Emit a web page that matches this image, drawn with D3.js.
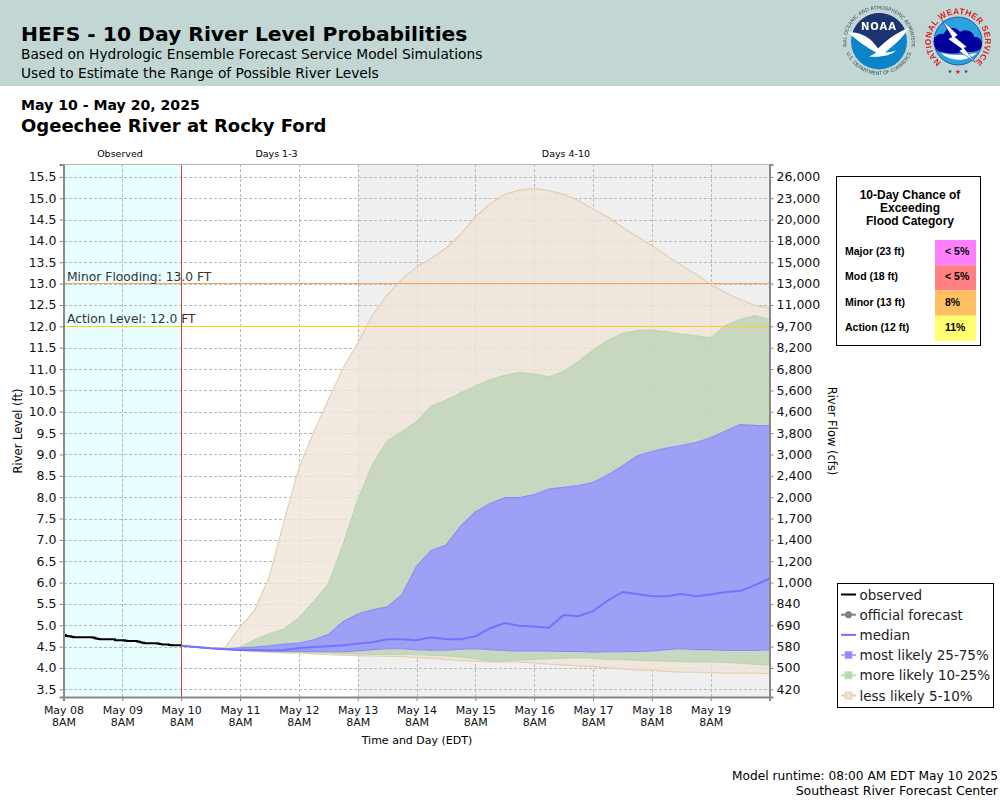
<!DOCTYPE html>
<html>
<head>
<meta charset="utf-8">
<script src="https://cdn.jsdelivr.net/npm/d3@7"></script>
<style>
  html, body { margin: 0; padding: 0; background: #fff; }
  svg { display: block; font-family: "DejaVu Sans", sans-serif; }
</style>
</head>
<body>
<div id="chart"></div>
<script>
// ----- DATA -----
// Hours are counted from May 08 8AM
const dayLabels = ["May 08", "May 09", "May 10", "May 11", "May 12", "May 13", "May 14", "May 15", "May 16", "May 17", "May 18", "May 19"];
const stageTicks = [15.5, 15.0, 14.5, 14.0, 13.5, 13.0, 12.5, 12.0, 11.5, 11.0, 10.5, 10.0, 9.5, 9.0, 8.5, 8.0, 7.5, 7.0, 6.5, 6.0, 5.5, 5.0, 4.5, 4.0, 3.5];
const flowLabels = ["26,000", "23,000", "20,000", "18,000", "15,000", "13,000", "11,000", "9,700", "8,200", "6,800", "5,600", "4,600", "3,800", "3,000", "2,400", "2,000", "1,700", "1,400", "1,200", "1,000", "840", "690", "580", "500", "420"];

// hourly observed stage, May 08 8AM to May 10 8AM
const observed = [4.77, 4.75, 4.74, 4.73, 4.72, 4.72, 4.72, 4.72, 4.72, 4.72, 4.72, 4.72, 4.71, 4.69, 4.68, 4.67, 4.67, 4.67, 4.67, 4.67, 4.67, 4.65, 4.65, 4.65, 4.65, 4.64, 4.63, 4.63, 4.63, 4.63, 4.62, 4.60, 4.59, 4.58, 4.58, 4.58, 4.58, 4.58, 4.57, 4.56, 4.55, 4.55, 4.55, 4.54, 4.53, 4.53, 4.53, 4.53, 4.53];

// 6-hourly ensemble values, May 10 8AM to May 20 8AM
const median = [4.52, 4.49, 4.46, 4.44, 4.42, 4.42, 4.41, 4.42, 4.47, 4.49, 4.51, 4.53, 4.57, 4.60, 4.67, 4.67, 4.65, 4.72, 4.67, 4.67, 4.74, 4.93, 5.05, 4.99, 4.97, 4.94, 5.24, 5.21, 5.33, 5.58, 5.78, 5.73, 5.68, 5.68, 5.73, 5.68, 5.72, 5.78, 5.80, 5.94, 6.09];
const p75 = [4.52, 4.49, 4.46, 4.44, 4.47, 4.49, 4.52, 4.56, 4.58, 4.66, 4.78, 5.08, 5.26, 5.36, 5.43, 5.71, 6.38, 6.75, 6.87, 7.32, 7.65, 7.85, 7.99, 7.99, 8.06, 8.19, 8.23, 8.27, 8.34, 8.52, 8.73, 8.96, 9.07, 9.15, 9.21, 9.28, 9.39, 9.55, 9.70, 9.68, 9.67];
const p25 = [4.52, 4.49, 4.46, 4.44, 4.41, 4.40, 4.40, 4.39, 4.39, 4.39, 4.38, 4.38, 4.40, 4.43, 4.45, 4.45, 4.43, 4.42, 4.42, 4.44, 4.45, 4.43, 4.41, 4.40, 4.40, 4.40, 4.39, 4.39, 4.37, 4.38, 4.38, 4.39, 4.40, 4.43, 4.45, 4.43, 4.43, 4.41, 4.41, 4.41, 4.43];
const p90 = [4.52, 4.49, 4.46, 4.45, 4.48, 4.66, 4.80, 4.91, 5.17, 5.55, 5.96, 6.88, 7.93, 8.75, 9.31, 9.53, 9.76, 10.13, 10.27, 10.44, 10.60, 10.75, 10.85, 10.92, 10.88, 10.82, 10.94, 11.17, 11.44, 11.67, 11.83, 11.90, 11.91, 11.87, 11.82, 11.78, 11.73, 12.02, 12.16, 12.25, 12.16];
const p10 = [4.52, 4.49, 4.46, 4.44, 4.42, 4.40, 4.38, 4.37, 4.37, 4.36, 4.35, 4.34, 4.33, 4.32, 4.32, 4.32, 4.31, 4.30, 4.28, 4.26, 4.22, 4.16, 4.16, 4.19, 4.20, 4.22, 4.23, 4.24, 4.23, 4.20, 4.20, 4.18, 4.17, 4.16, 4.15, 4.14, 4.14, 4.13, 4.11, 4.09, 4.07];
const p95 = [4.52, 4.49, 4.47, 4.48, 4.96, 5.35, 6.15, 7.45, 8.68, 9.52, 10.27, 11.02, 11.60, 12.26, 12.73, 13.10, 13.39, 13.59, 13.83, 14.15, 14.56, 14.87, 15.09, 15.19, 15.23, 15.18, 15.09, 14.95, 14.75, 14.56, 14.32, 14.11, 13.89, 13.66, 13.43, 13.22, 12.98, 12.79, 12.63, 12.49, 12.43];
const p05 = [4.52, 4.49, 4.46, 4.44, 4.42, 4.39, 4.37, 4.35, 4.35, 4.33, 4.31, 4.30, 4.29, 4.28, 4.27, 4.27, 4.24, 4.23, 4.20, 4.18, 4.16, 4.14, 4.14, 4.14, 4.12, 4.09, 4.07, 4.05, 4.03, 4.01, 3.98, 3.95, 3.95, 3.92, 3.90, 3.90, 3.89, 3.88, 3.88, 3.88, 3.87];

const floodNames = ["Major (23 ft)", "Mod (18 ft)", "Minor (13 ft)", "Action (12 ft)"];
const floodChances = ["< 5%", "< 5%", "8%", "11%"];
const legendNames = ["observed", "official forecast", "median", "most likely 25-75%", "more likely 10-25%", "less likely 5-10%"];

const observedHours = d3.range(observed.length);
const forecastHours = d3.range(median.length).map(i => 48 + i * 6);

// ----- SETUP -----
const width = 1000, height = 800;
const plot = { left: 63.5, right: 769.5, top: 164.5, bottom: 697 };
const floodColors = ["#ff80ff", "#ff8080", "#ffc060", "#ffff70"];

const svg = d3.select("#chart").append("svg")
  .attr("width", width)
  .attr("height", height)
  .attr("viewBox", [0, 0, width, height]);

const x = d3.scaleLinear().domain([0, 288]).range([plot.left, plot.right]);
const y = d3.scaleLinear().domain([3.32, 15.79]).range([plot.bottom, plot.top]);

// ----- HEADER -----
svg.append("rect").attr("width", width).attr("height", 86).attr("fill", "#c2d7d4");

function addText(px, py, str, size, weight, anchor, fill) {
  return svg.append("text")
    .attr("x", px).attr("y", py)
    .attr("font-size", size)
    .attr("font-weight", weight || "normal")
    .attr("text-anchor", anchor || "start")
    .attr("fill", fill || "#000")
    .text(str);
}

addText(21, 41, "HEFS - 10 Day River Level Probabilities", 20.3, "bold");
addText(21, 59, "Based on Hydrologic Ensemble Forecast Service Model Simulations", 13.75);
addText(21, 78, "Used to Estimate the Range of Possible River Levels", 13.75);
addText(21, 110, "May 10 - May 20, 2025", 14.1, "bold");
addText(21, 132, "Ogeechee River at Rocky Ford", 18, "bold");

// ----- LOGOS -----
const soft = svg.append("defs").append("filter").attr("id", "soft");
soft.append("feGaussianBlur").attr("stdDeviation", 0.3);

const noaa = svg.append("g").attr("transform", "translate(879,41.5)").attr("filter", "url(#soft)");
noaa.append("circle").attr("r", 28).attr("fill", "#0a84c8");
noaa.append("path")
  .attr("d", "M-26,-10 C-14,-6 -6,0 0,8 C8,2 16,-4 27,-9 A28,28 0 0 0 -26,-10 Z")
  .attr("fill", "#1f3670");
noaa.append("path")
  .attr("d", "M-31,-9 C-18,-10 -8,-4 -1,7 C8,-2 18,-9 30,-14 C24,-3 12,6 6,11 C10,11 14,10 17,9 C12,14 2,16 -10,15 C-6,13 -4,12 -3,11 C-12,6 -22,-1 -31,-9 Z")
  .attr("fill", "#fff");
noaa.append("text").attr("y", -12).attr("text-anchor", "middle")
  .attr("font-size", 10).attr("font-weight", "bold").attr("letter-spacing", 1)
  .attr("fill", "#fff").text("NOAA");

noaa.append("path").attr("id", "noaaTop").attr("d", "M-32,6 A32.5,32.5 0 1 1 32,6").attr("fill", "none");
noaa.append("path").attr("id", "noaaBottom").attr("d", "M-33,10 A35,35 0 0 0 33,10").attr("fill", "none");
noaa.append("text").attr("font-size", 4.9).attr("fill", "#3c4a5c")
  .append("textPath").attr("href", "#noaaTop").attr("startOffset", "50%").attr("text-anchor", "middle")
  .text("NATIONAL OCEANIC AND ATMOSPHERIC ADMINISTRATION");
noaa.append("text").attr("font-size", 4.9).attr("fill", "#3c4a5c")
  .append("textPath").attr("href", "#noaaBottom").attr("startOffset", "50%").attr("text-anchor", "middle")
  .text("U.S. DEPARTMENT OF COMMERCE");

const nws = svg.append("g").attr("transform", "translate(958,41)").attr("filter", "url(#soft)");
nws.append("circle").attr("r", 24).attr("fill", "#29a3dc").attr("stroke", "#1c3f94").attr("stroke-width", 0.8);
nws.append("path")
  .attr("d", "M-24,3 C-26,-5 -18,-8 -14,-7 C-12,-14 -2,-15 2,-9 C8,-13 16,-9 16,-4 C22,-5 26,1 23,7 C18,13 10,10 4,11 C-4,14 -12,12 -16,11 C-20,11 -23,8 -24,3 Z")
  .attr("fill", "#00009c");
nws.append("path")
  .attr("d", "M-17,12 C-8,21 10,21 19,12 C10,14 -6,15 -17,12 Z")
  .attr("fill", "#fff");
nws.append("path")
  .attr("d", "M-16,-21 L0,-6 L-3,-4 L9,6 L6,7 L17,21 L1,10 L4,8 L-10,-2 L-6,-4 Z")
  .attr("fill", "#fff").attr("stroke", "#00009c").attr("stroke-width", 0.5);
nws.append("path").attr("id", "nwsRing").attr("d", "M-16.5,21.5 A27,27 0 1 1 16.5,21.5").attr("fill", "none");
nws.append("text").attr("font-family", "Liberation Sans").attr("font-size", 8.4)
  .attr("font-weight", "bold").attr("fill", "#d8202a").attr("letter-spacing", 0.3)
  .append("textPath").attr("href", "#nwsRing").attr("startOffset", "50%").attr("text-anchor", "middle")
  .text("NATIONAL WEATHER SERVICE");
nws.append("text").attr("y", 33).attr("text-anchor", "middle").attr("font-size", 7).attr("fill", "#d8202a").text("★");
nws.append("text").attr("x", -8).attr("y", 32).attr("text-anchor", "middle").attr("font-size", 5).attr("fill", "#1c3f94").text("★");
nws.append("text").attr("x", 8).attr("y", 32).attr("text-anchor", "middle").attr("font-size", 5).attr("fill", "#1c3f94").text("★");

// ----- PLOT BACKGROUND AND GRID -----
svg.append("rect")
  .attr("x", x(0)).attr("y", plot.top)
  .attr("width", x(48) - x(0)).attr("height", plot.bottom - plot.top)
  .attr("fill", "#e8ffff");
svg.append("rect")
  .attr("x", x(120)).attr("y", plot.top)
  .attr("width", x(288) - x(120)).attr("height", plot.bottom - plot.top)
  .attr("fill", "#efefef");

const dayHours = dayLabels.map((d, i) => i * 24);

const gridX = svg.append("g")
  .attr("transform", `translate(0,${plot.bottom})`)
  .call(d3.axisBottom(x).tickValues(dayHours).tickSize(-(plot.bottom - plot.top)).tickFormat(""));
const gridY = svg.append("g")
  .attr("transform", `translate(${plot.left},0)`)
  .call(d3.axisLeft(y).tickValues(stageTicks).tickSize(-(plot.right - plot.left)).tickFormat(""));
[gridX, gridY].forEach(g => {
  g.select(".domain").remove();
  g.selectAll("line")
    .attr("stroke", "#b8b8b8")
    .attr("stroke-dasharray", "3,2")
    .attr("shape-rendering", "crispEdges");
});

// ----- ENSEMBLE BANDS -----
const bandArea = (lower, upper) => d3.area()
  .x(i => x(forecastHours[i]))
  .y0(i => y(lower[i]))
  .y1(i => y(upper[i]))(d3.range(forecastHours.length));

const edge = values => d3.line()
  .x((d, i) => x(forecastHours[i]))
  .y(d => y(d))(values);

const bands = [
  { low: p05, high: p95, fill: "rgba(239,229,216,0.8)", stroke: "#e4ceb2" },
  { low: p10, high: p90, fill: "rgba(190,211,185,0.8)", stroke: "#bcd5ae" },
  { low: p25, high: p75, fill: "rgba(150,150,255,0.85)", stroke: "#8d8dfa" }
];

svg.append("g").selectAll("path")
  .data(bands)
  .join("path")
    .attr("d", d => bandArea(d.low, d.high))
    .attr("fill", d => d.fill);

bands.forEach(b => {
  [b.low, b.high].forEach(values => {
    svg.append("path")
      .attr("d", edge(values))
      .attr("fill", "none")
      .attr("stroke", b.stroke)
      .attr("stroke-width", 1.2);
  });
});

// ----- THRESHOLDS -----
[[13, "#f4a460"], [12, "#ffd21a"]].forEach(([level, color]) => {
  svg.append("line")
    .attr("x1", x(0)).attr("x2", x(288))
    .attr("y1", y(level)).attr("y2", y(level))
    .attr("stroke", color)
    .attr("stroke-width", 1)
    .attr("shape-rendering", "crispEdges");
});
addText(67, y(13) - 3, "Minor Flooding: 13.0 FT", 12.3, "normal", "start", "#333");
addText(67, y(12) - 3, "Action Level: 12.0 FT", 12.3, "normal", "start", "#333");

// ----- MEDIAN AND OBSERVED -----
svg.append("path")
  .attr("d", edge(median))
  .attr("fill", "none")
  .attr("stroke", "#7272ff")
  .attr("stroke-width", 2);

svg.append("line")
  .attr("x1", x(48)).attr("x2", x(48))
  .attr("y1", plot.top).attr("y2", plot.bottom)
  .attr("stroke", "#d93a3a")
  .attr("stroke-width", 1)
  .attr("shape-rendering", "crispEdges");

svg.append("path")
  .attr("d", d3.line()
    .x((d, i) => x(observedHours[i]))
    .y(d => y(d))
    .curve(d3.curveStepAfter)(observed))
  .attr("fill", "none")
  .attr("stroke", "#000")
  .attr("stroke-width", 2);

// ----- AXES -----
const xAxis = svg.append("g")
  .attr("transform", `translate(0,${plot.bottom})`)
  .call(d3.axisBottom(x).tickValues(dayHours).tickSize(4).tickFormat((d, i) => dayLabels[i]));
xAxis.selectAll("text").each(function () {
  const label = d3.select(this).text();
  const t = d3.select(this).text(null).attr("y", 9);
  t.append("tspan").attr("x", 0).attr("dy", "0.71em").text(label);
  t.append("tspan").attr("x", 0).attr("dy", "1.15em").text("8AM");
});

const yLeft = svg.append("g")
  .attr("transform", `translate(${plot.left},0)`)
  .call(d3.axisLeft(y).tickValues(stageTicks).tickSize(4).tickFormat(d3.format(".1f")));

const yRight = svg.append("g")
  .attr("transform", `translate(${plot.right},0)`)
  .call(d3.axisRight(y).tickValues(stageTicks).tickSize(4).tickFormat((d, i) => flowLabels[i]));

[xAxis, yLeft, yRight].forEach(g => {
  g.selectAll(".domain").attr("stroke", "#888").attr("stroke-width", 2);
  g.selectAll("line").attr("stroke", "#888");
  g.selectAll("text").attr("fill", "#111").attr("font-family", "DejaVu Sans");
});
xAxis.selectAll("text").attr("font-size", 11);
yLeft.selectAll("text").attr("font-size", 12.5);
yRight.selectAll("text").attr("font-size", 12.5);

// top frame line
svg.append("line")
  .attr("x1", plot.left).attr("x2", plot.right)
  .attr("y1", plot.top).attr("y2", plot.top)
  .attr("stroke", "#b4b4b4").attr("stroke-width", 1);

// Region captions and axis titles
addText(120, 157, "Observed", 9.5, "normal", "middle");
addText(276.5, 157, "Days 1-3", 9.5, "normal", "middle");
addText(566, 157, "Days 4-10", 9.5, "normal", "middle");
addText(417, 744, "Time and Day (EDT)", 11, "normal", "middle");

svg.append("text")
  .attr("transform", "translate(22,431) rotate(-90)")
  .attr("text-anchor", "middle").attr("font-size", 11.5)
  .text("River Level (ft)");
svg.append("text")
  .attr("transform", "translate(828,431) rotate(90)")
  .attr("text-anchor", "middle").attr("font-size", 11.5)
  .text("River Flow (cfs)");

// ----- FLOOD CATEGORY BOX -----
const flood = svg.append("g").attr("font-family", "Liberation Sans").attr("font-weight", "bold");
flood.append("rect")
  .attr("x", 836.5).attr("y", 176.5)
  .attr("width", 144).attr("height", 169)
  .attr("fill", "#fff").attr("stroke", "#000");

["10-Day Chance of", "Exceeding", "Flood Category"].forEach((line, i) => {
  flood.append("text")
    .attr("x", 910).attr("y", 199 + i * 13)
    .attr("text-anchor", "middle").attr("font-size", 12)
    .text(line);
});

const rowY = d3.scaleBand().domain(floodNames).range([240, 341]);
floodNames.forEach((name, i) => {
  flood.append("rect")
    .attr("x", 935).attr("y", rowY(name))
    .attr("width", 41).attr("height", rowY.bandwidth())
    .attr("fill", floodColors[i]);
  flood.append("text")
    .attr("x", 845).attr("y", rowY(name) + 15)
    .attr("font-size", 10.5)
    .text(name);
  flood.append("text")
    .attr("x", 945).attr("y", rowY(name) + 15)
    .attr("font-size", 10.5)
    .text(floodChances[i]);
});

// ----- LEGEND -----
const legend = svg.append("g");
legend.append("rect")
  .attr("x", 837.5).attr("y", 583.5)
  .attr("width", 156).attr("height", 124)
  .attr("fill", "#fff").attr("stroke", "#000");

const legendStyles = [
  { line: "#000", lineWidth: 2 },
  { line: "#808080", lineWidth: 2, dot: "#808080" },
  { line: "#7272ff", lineWidth: 2 },
  { line: "#a9a9ff", lineWidth: 2, box: "#8d8dfa" },
  { line: "#bcdcae", lineWidth: 2, box: "#bcd5ae" },
  { line: "#e4ceb2", lineWidth: 2, box: "#ede0d0" }
];

legendNames.forEach((name, i) => {
  const ly = 594.5 + i * 20.2;
  const s = legendStyles[i];
  legend.append("line")
    .attr("x1", 841).attr("x2", 856)
    .attr("y1", ly).attr("y2", ly)
    .attr("stroke", s.line).attr("stroke-width", s.lineWidth);
  if (s.dot) {
    legend.append("circle").attr("cx", 848.5).attr("cy", ly).attr("r", 3.5).attr("fill", s.dot);
  }
  if (s.box) {
    legend.append("rect")
      .attr("x", 845).attr("y", ly - 3.5)
      .attr("width", 7).attr("height", 7)
      .attr("fill", s.box).attr("stroke", s.line).attr("stroke-width", 0.8);
  }
  legend.append("text")
    .attr("x", 859.5).attr("y", ly + 5)
    .attr("font-size", 13.5)
    .attr("fill", "#222")
    .text(name);
});

// ----- FOOTER -----
addText(998, 780, "Model runtime: 08:00 AM EDT May 10 2025", 12.2, "normal", "end");
addText(998, 795, "Southeast River Forecast Center", 12.5, "normal", "end");
</script>
</body>
</html>
